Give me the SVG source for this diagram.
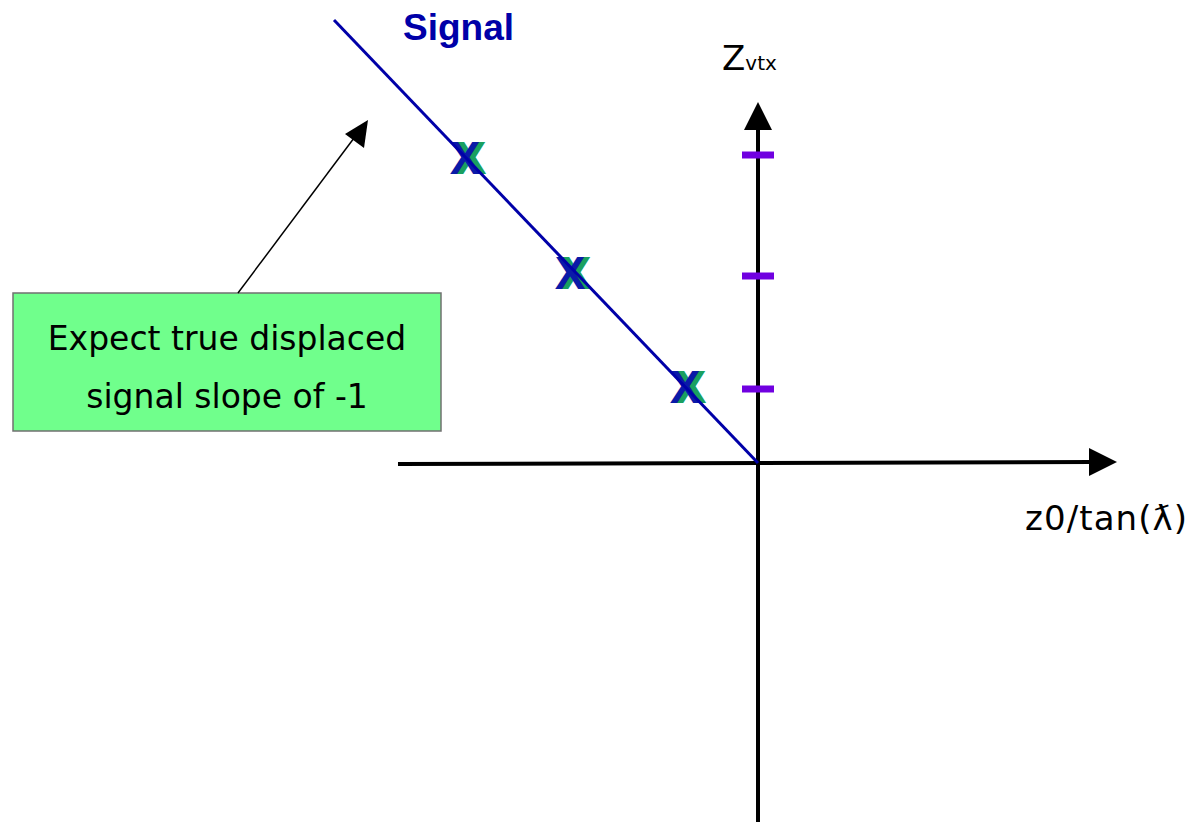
<svg xmlns="http://www.w3.org/2000/svg" width="1190" height="822" viewBox="0 0 1190 822">
<style>
.axis{stroke:#000;stroke-width:4;fill:none}
.tick{stroke:#7000e0;stroke-width:7}
.sig{stroke:#0000a8;stroke-width:3}
.xm{font-family:"Liberation Sans",Arial,sans-serif;font-weight:bold;font-size:46px;text-anchor:middle}
.lbl{font-family:"DejaVu Sans","Liberation Sans",sans-serif;fill:#000}
</style>
<rect width="1190" height="822" fill="#fff"/>
<g id="axes">
<line class="axis" x1="758" y1="822" x2="758" y2="128"/>
<path d="M758,102 L772,130 L744,130 Z" fill="#000"/>
<line class="axis" x1="398" y1="464" x2="1092" y2="462"/>
<path d="M1117,462 L1089,448 L1089,476 Z" fill="#000"/>
</g>
<g id="ticks">
<line class="tick" x1="742" y1="155" x2="774" y2="155"/>
<line class="tick" x1="742" y1="276" x2="774" y2="276"/>
<line class="tick" x1="742" y1="389" x2="774" y2="389"/>
</g>
<g id="markers">
<text class="xm" x="471" y="174" fill="#1aa060">X</text>
<text class="xm" x="465" y="174" fill="#0a1aa8">X</text>
<text class="xm" x="576" y="289" fill="#1aa060">X</text>
<text class="xm" x="570" y="289" fill="#0a1aa8">X</text>
<text class="xm" x="691" y="403" fill="#1aa060">X</text>
<text class="xm" x="685" y="403" fill="#0a1aa8">X</text>
</g>
<g id="signal">
<line class="sig" x1="334" y1="20" x2="758" y2="463"/>
<text x="403" y="40" font-family="'Liberation Sans',Arial,sans-serif" font-weight="bold" font-size="37" fill="#0000a8">Signal</text>
</g>
<g id="labels">
<text class="lbl" x="722" y="70" font-size="34">Z<tspan font-size="20">vtx</tspan></text>
<text class="lbl" x="1025" y="530" font-size="34" textLength="162" lengthAdjust="spacing">z0/tan(ƛ)</text>
</g>
<g id="note">
<rect x="13" y="293" width="428" height="138" fill="#70ff8c" stroke="#707070" stroke-width="1.5"/>
<text class="lbl" x="227" y="350" font-size="33" text-anchor="middle">Expect true displaced</text>
<text class="lbl" x="227" y="408" font-size="33" text-anchor="middle">signal slope of -1</text>
</g>
<g id="connectors">
<line x1="238" y1="293" x2="357" y2="134" stroke="#000" stroke-width="1.5"/>
<path d="M368,120 L364,148 L345,134 Z" fill="#000"/>
</g>
</svg>
